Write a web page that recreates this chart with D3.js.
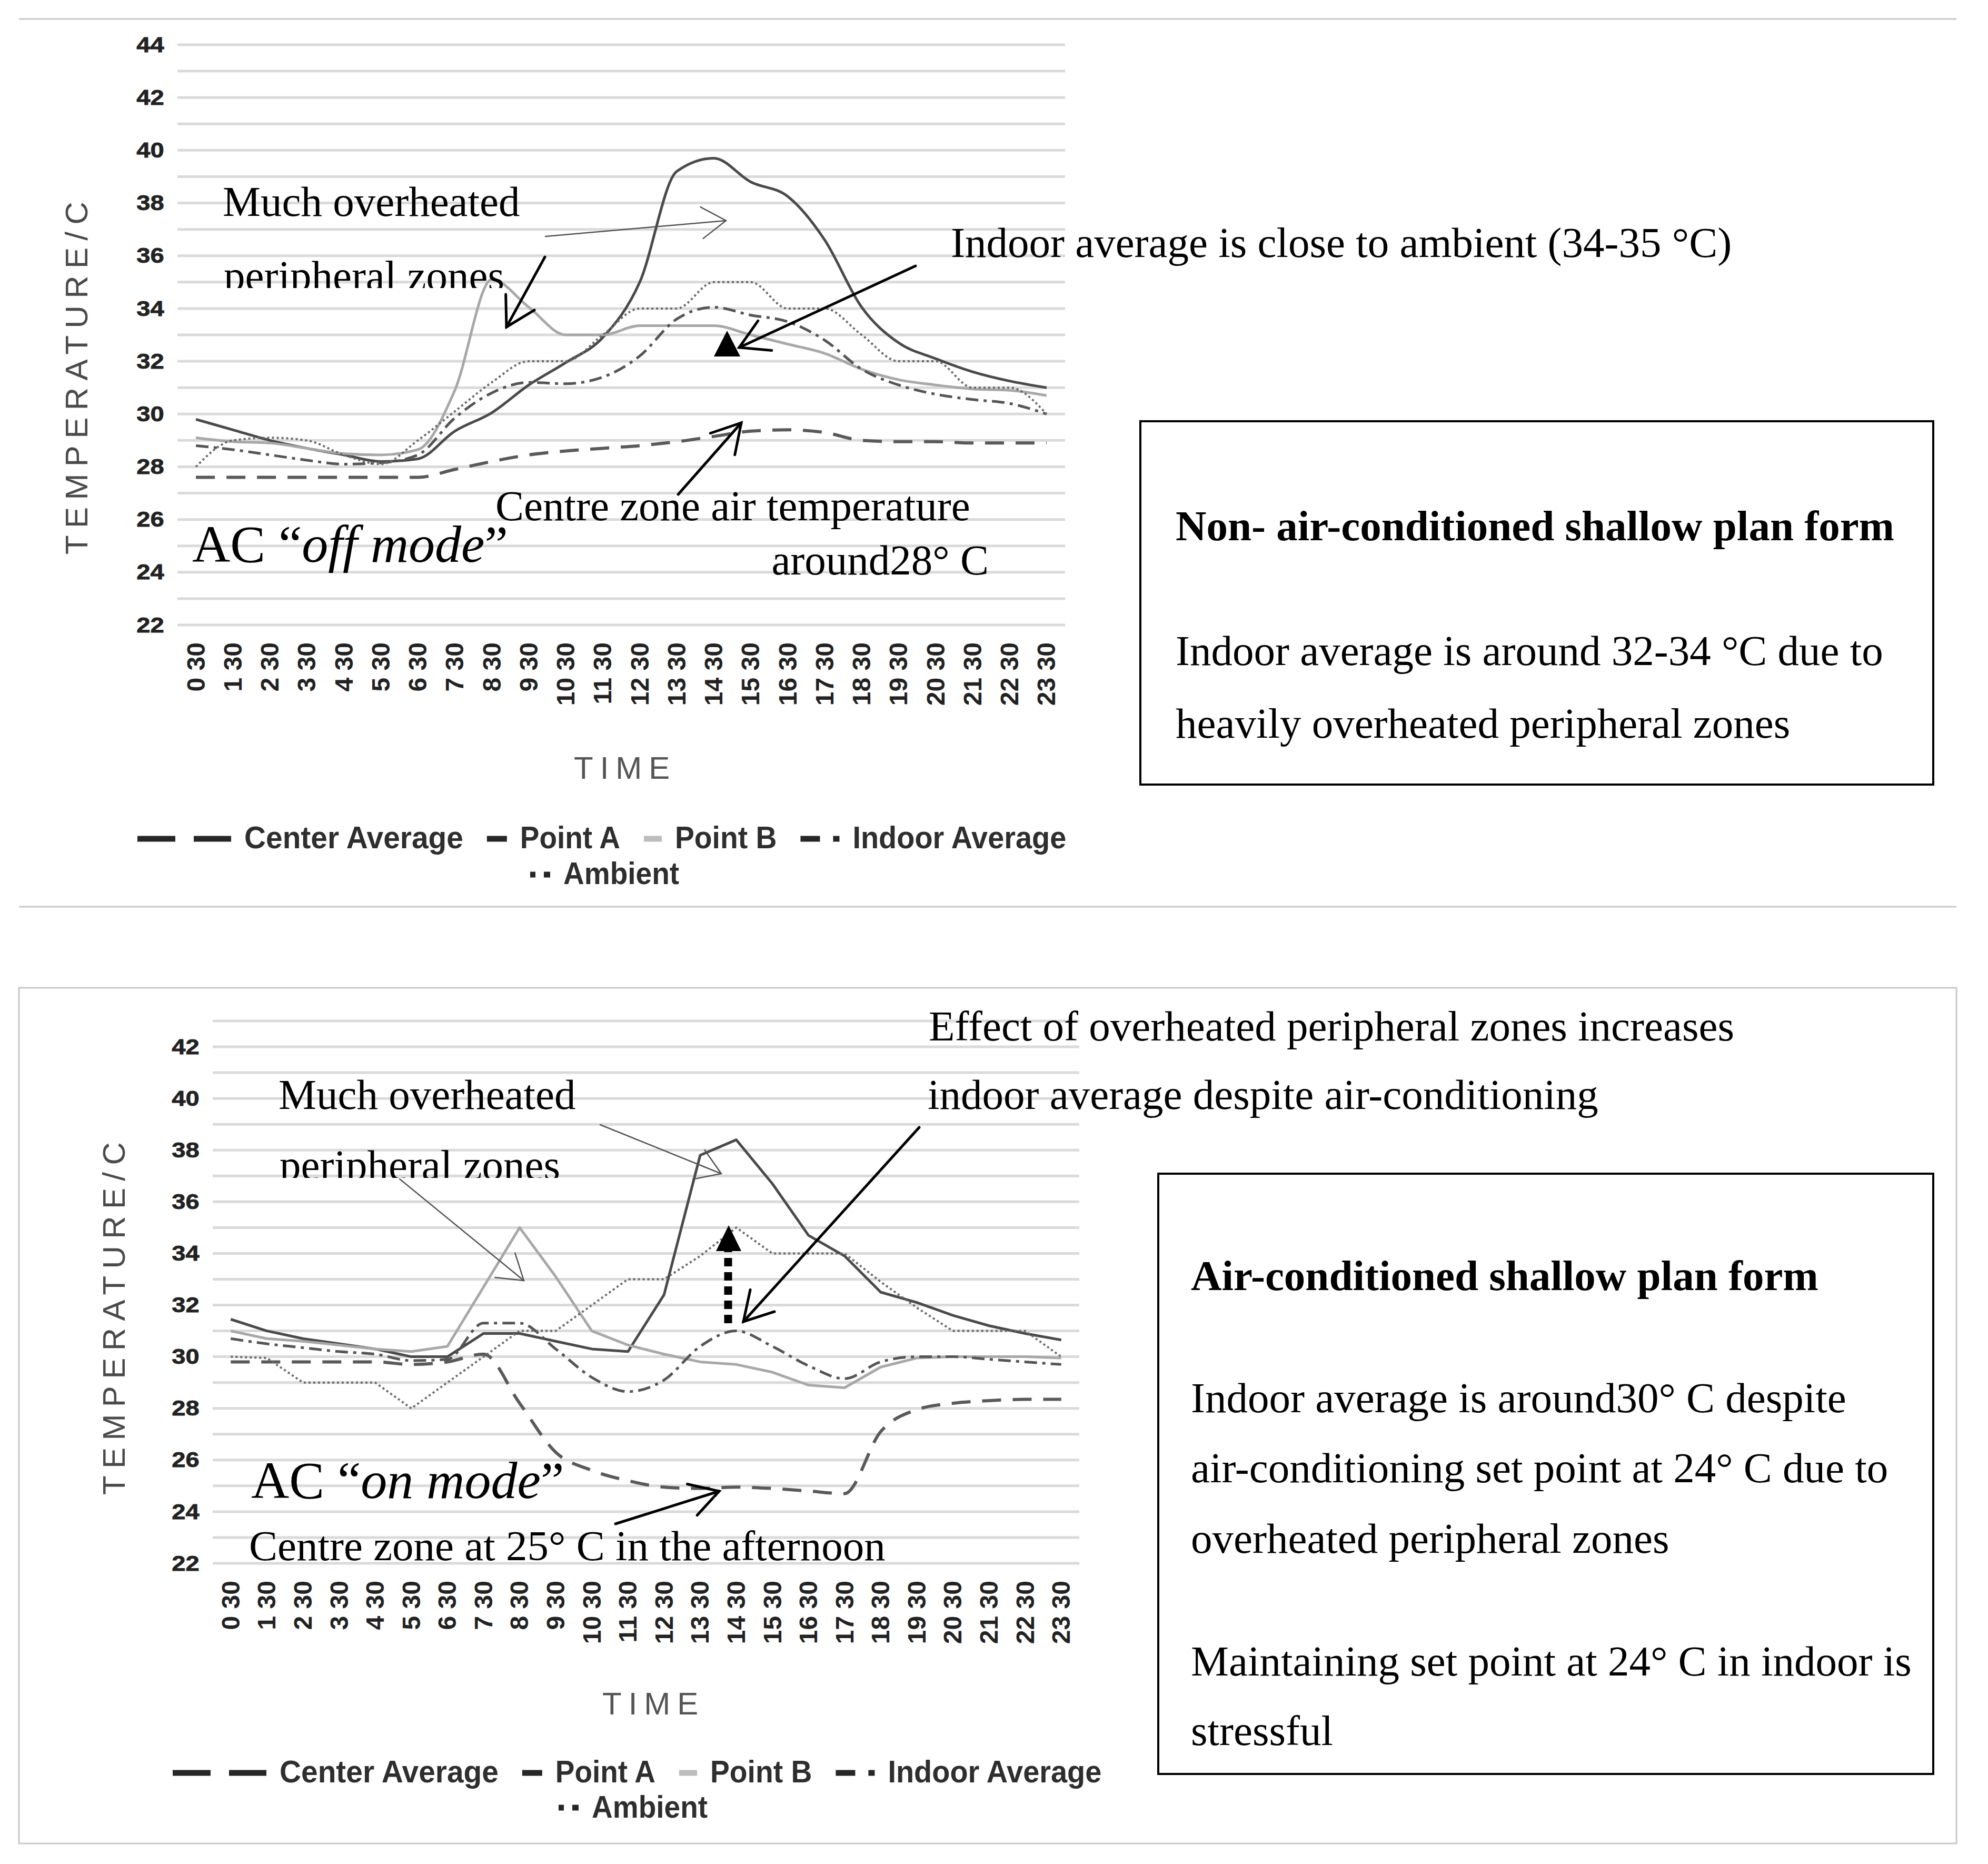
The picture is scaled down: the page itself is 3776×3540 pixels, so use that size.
<!DOCTYPE html>
<html><head><meta charset="utf-8">
<script src="https://cdn.jsdelivr.net/npm/d3@7"></script>
<style>body{margin:0;background:#fff}</style>
</head><body>
<svg id="c" width="3776" height="3540" xmlns="http://www.w3.org/2000/svg"></svg>
<script>
// ---------------- DATA ----------------
const times = ["0 30","1 30","2 30","3 30","4 30","5 30","6 30","7 30","8 30","9 30","10 30","11 30",
               "12 30","13 30","14 30","15 30","16 30","17 30","18 30","19 30","20 30","21 30","22 30","23 30"];
const seriesNames = ["Center Average","Point A","Point B","Indoor Average","Ambient"];
const yTicksOff = [22,24,26,28,30,32,34,36,38,40,42,44];
const yTicksOn  = [22,24,26,28,30,32,34,36,38,40,42];

// AC "off mode" (top chart)
const offCenterAverage = [27.6,27.6,27.6,27.6,27.6,27.6,27.6,27.9,28.2,28.45,28.6,28.7,28.8,28.95,29.15,29.35,29.4,29.3,29.0,28.95,28.95,28.9,28.9,28.9];
const offPointA        = [29.8,29.4,29.0,28.7,28.45,28.2,28.3,29.35,30.05,31.1,31.95,32.9,35.0,39.2,39.7,38.8,38.25,36.6,34.05,32.7,32.1,31.6,31.25,31.0];
const offPointB        = [29.1,28.95,28.9,28.7,28.5,28.45,28.65,30.9,35.1,34.05,33.0,33.0,33.35,33.35,33.35,33.0,32.65,32.3,31.7,31.3,31.1,30.95,30.9,30.7];
const offIndoorAverage = [28.8,28.65,28.45,28.25,28.1,28.15,28.45,29.85,30.8,31.2,31.15,31.4,32.2,33.6,34.05,33.75,33.5,32.8,31.7,31.1,30.75,30.55,30.4,30.0];
const offAmbient       = [28.0,29.0,29.1,29.0,28.45,28.1,29.0,30.1,31.2,32.0,32.0,33.0,34.0,34.0,35.0,35.0,34.0,34.0,33.0,32.0,32.0,31.0,31.0,30.0];

// AC "on mode" (bottom chart)
const onCenterAverage = [29.8,29.8,29.8,29.8,29.8,29.7,29.8,30.1,28.2,26.3,25.6,25.2,24.95,24.9,24.95,24.9,24.8,24.7,27.1,27.95,28.2,28.3,28.35,28.35];
const onPointA        = [31.45,31.0,30.7,30.5,30.3,30.0,30.0,30.9,30.9,30.6,30.3,30.2,32.4,37.8,38.4,36.7,34.7,33.9,32.5,32.1,31.6,31.2,30.9,30.65];
const onPointB        = [31.0,30.7,30.6,30.45,30.3,30.2,30.4,32.7,35.0,33.1,31.0,30.45,30.1,29.8,29.7,29.4,28.9,28.8,29.6,29.95,30.0,30.0,30.0,29.95];
const onIndoorAverage = [30.7,30.5,30.35,30.2,30.1,29.85,29.9,31.3,31.3,30.3,29.2,28.65,29.1,30.4,31.0,30.4,29.65,29.15,29.8,30.0,30.0,29.9,29.8,29.7];
const onAmbient       = [30.0,29.95,29.0,29.0,29.0,28.0,29.0,30.0,31.0,31.0,32.0,33.0,33.0,33.9,35.0,34.0,34.0,34.0,32.9,31.9,31.0,31.0,31.0,30.0];

// ---------------- STYLES ----------------
const lineStyle = {
  "Center Average": {color:"#5a5a5a", width:6, dash:"36,22"},
  "Point A":        {color:"#4a4a4a", width:5, dash:null},
  "Point B":        {color:"#a8a8a8", width:5, dash:null},
  "Indoor Average": {color:"#555555", width:5, dash:"24,10,6,10"},
  "Ambient":        {color:"#6a6a6a", width:4, dash:"4,5"}
};
const legendSwatch = {
  "Center Average": {color:"#262626", segs:[[0,72],[107,178]]},
  "Point A":        {color:"#262626", segs:[[0,38]]},
  "Point B":        {color:"#bdbdbd", segs:[[0,34]]},
  "Indoor Average": {color:"#262626", segs:[[0,37],[62,74]]},
  "Ambient":        {color:"#262626", segs:[[0,10],[26,38]]}
};
const SANS = "'Liberation Sans', Arial, sans-serif";
const SERIF = "'Liberation Serif', 'Times New Roman', serif";

const svg = d3.select("#c");

// section frames
svg.append("line").attr("x1",36).attr("x2",3716).attr("y1",36).attr("y2",36).attr("stroke","#c8c8c8").attr("stroke-width",3);
svg.append("line").attr("x1",36).attr("x2",3716).attr("y1",1722).attr("y2",1722).attr("stroke","#c8c8c8").attr("stroke-width",3);
svg.append("rect").attr("x",36).attr("y",1876).attr("width",3680).attr("height",1625).attr("fill","none").attr("stroke","#c8c8c8").attr("stroke-width",3);

function chart(o){
  const g = svg.append("g");
  const x = d3.scaleBand().domain(times).range([o.left,o.right]);
  const y = d3.scaleLinear().domain([22,o.max]).range([o.bottom,o.top]);
  const cx = t => x(t) + x.bandwidth()/2;

  g.append("g").selectAll("line").data(d3.range(22,o.max+1)).join("line")
    .attr("x1",o.left).attr("x2",o.right).attr("y1",d=>y(d)).attr("y2",d=>y(d))
    .attr("stroke","#dadada").attr("stroke-width",5);

  const ya = g.append("g").attr("transform",`translate(${o.left},0)`)
    .call(d3.axisLeft(y).tickValues(o.yTicks).tickSize(0).tickPadding(22));
  ya.select(".domain").remove();
  ya.selectAll("text").attr("font-family",SANS).attr("font-weight","bold").attr("font-size",41)
    .attr("fill","#222").attr("stroke","#222").attr("stroke-width",0.8).attr("transform","scale(1.15,1)");

  const xa = g.append("g").attr("transform",`translate(0,${o.bottom})`)
    .call(d3.axisBottom(x).tickSize(0));
  xa.select(".domain").remove();
  xa.selectAll("text").attr("x",0).attr("y",0).attr("dy",null)
    .attr("font-family",SANS).attr("font-weight","bold").attr("font-size",48).attr("fill","#222")
    .attr("text-anchor","end").attr("dominant-baseline","central")
    .attr("transform","translate(0,33) rotate(-90)");

  seriesNames.forEach((name,k)=>{
    const st = lineStyle[name];
    const ln = d3.line().x((d,i)=>cx(times[i])).y(d=>y(d)).curve(o.curves[k]);
    g.append("path").datum(o.series[k]).attr("d",ln).attr("fill","none")
      .attr("stroke",st.color).attr("stroke-width",st.width)
      .attr("stroke-dasharray",st.dash).attr("stroke-linejoin","round");
  });

  g.append("text").attr("transform",`translate(${o.yTitle[0]},${o.yTitle[1]}) rotate(-90)`)
    .attr("font-family",SANS).attr("font-size",60).attr("letter-spacing",13.4).attr("fill","#4a4a4a")
    .text("TEMPERATURE/C");
  g.append("text").attr("x",o.xTitle[0]).attr("y",o.xTitle[1])
    .attr("font-family",SANS).attr("font-size",60).attr("letter-spacing",13).attr("fill","#555")
    .text("TIME");

  o.legendRows.forEach(row=>{
    let xx = row.x;
    row.items.forEach(name=>{
      const sw = legendSwatch[seriesNames[name]];
      sw.segs.forEach(s=>{
        g.append("line").attr("x1",xx+s[0]).attr("x2",xx+s[1]).attr("y1",row.sy).attr("y2",row.sy)
          .attr("stroke",sw.color).attr("stroke-width",11);
      });
      const w = sw.segs[sw.segs.length-1][1];
      xx += w + 25;
      const t = g.append("text").attr("x",xx).attr("y",row.ty).attr("font-family",SANS)
        .attr("font-size",60).attr("fill","#2e2e2e").text(seriesNames[name]);
      const len = t.node().getComputedTextLength();
      t.attr("font-weight","bold").attr("textLength",len).attr("lengthAdjust","spacingAndGlyphs");
      xx += len + 45;
    });
  });
  return g;
}

const chartOff = chart({
  left:337, right:2023, top:85, bottom:1187, max:44, yTicks:yTicksOff,
  series:[offCenterAverage,offPointA,offPointB,offIndoorAverage,offAmbient],
  curves:[d3.curveMonotoneX,d3.curveMonotoneX,d3.curveMonotoneX,d3.curveMonotoneX,d3.curveMonotoneX],
  yTitle:[166,1053], xTitle:[1090,1479],
  legendRows:[{x:261, sy:1593, ty:1611, items:[0,1,2,3]},{x:1007, sy:1661, ty:1679, items:[4]}]
});
const chartOn = chart({
  left:404, right:2050, top:1939, bottom:2969, max:43, yTicks:yTicksOn,
  series:[onCenterAverage,onPointA,onPointB,onIndoorAverage,onAmbient],
  curves:[d3.curveMonotoneX,d3.curveLinear,d3.curveLinear,d3.curveMonotoneX,d3.curveLinear],
  yTitle:[237,2839], xTitle:[1144,3256],
  legendRows:[{x:328, sy:3367, ty:3385, items:[0,1,2,3]},{x:1061, sy:3433, ty:3452, items:[4]}]
});

// ---------------- ANNOTATIONS ----------------
const defs = svg.append("defs");
function clipAbove(id, yClip){
  defs.append("clipPath").attr("id",id).append("rect").attr("x",0).attr("y",0).attr("width",3776).attr("height",yClip);
}
clipAbove("clipTop",547); clipAbove("clipBot",2237);

function txt(s, x, y, opts={}){
  const t = svg.append("text").attr("x",x).attr("y",y).attr("font-family",SERIF)
    .attr("font-size",opts.size||81).attr("fill","#000")
    .attr("font-weight",opts.bold?"bold":"normal")
    .attr("text-anchor",opts.anchor||"start");
  if(opts.clip) t.attr("clip-path",`url(#${opts.clip})`);
  if(Array.isArray(s)){
    s.forEach(p=>t.append("tspan").attr("font-style",p[1]?"italic":"normal").text(p[0]));
  } else t.text(s);
  return t;
}
function arrow(x1,y1,x2,y2,opts){
  const g = svg.append("g").attr("stroke",opts.color).attr("stroke-width",opts.width).attr("fill","none")
    .attr("stroke-linecap","round").attr("stroke-linejoin","miter");
  g.append("line").attr("x1",x1).attr("y1",y1).attr("x2",x2).attr("y2",y2);
  const a = Math.atan2(y1-y2,x1-x2), t = opts.angle*Math.PI/180, L = opts.head;
  const p1 = [x2+L*Math.cos(a+t), y2+L*Math.sin(a+t)], p2=[x2+L*Math.cos(a-t), y2+L*Math.sin(a-t)];
  g.append("polyline").attr("points",`${p1[0]},${p1[1]} ${x2},${y2} ${p2[0]},${p2[1]}`);
}
const thin = {color:"#555", width:2.5, angle:33, head:55};
const bold = {color:"#000", width:5, angle:30, head:62};

// top chart annotations
txt("Much overheated",423,410);
txt("peripheral zones",425,551,{clip:"clipTop"});
arrow(1036,449,1379,419,thin);
arrow(1035,488,962,621,bold);
txt("Indoor average is close to ambient (34-35 °C)",1806,488);
arrow(1739,505,1404,660,bold);
svg.append("path").attr("d","M1381,628 L1406,677 L1356,677 Z").attr("fill","#000");
txt("Centre zone air temperature",941,988);
txt("around28° C",1878,1091,{anchor:"end"});
arrow(1288,939,1408,803,bold);
txt([["AC “",false],["off mode",true],["”",false]],365,1067,{size:100});
svg.append("rect").attr("x",2166).attr("y",800).attr("width",1506).attr("height",690).attr("fill","none").attr("stroke","#000").attr("stroke-width",4);
txt("Non- air-conditioned shallow plan form",2233,1026,{bold:true});
txt("Indoor average is around 32-34 °C due to",2233,1263);
txt("heavily overheated peripheral zones",2233,1401);

// bottom chart annotations
txt("Effect of overheated peripheral zones increases",1764,1976);
txt("indoor average despite air-conditioning",1762,2106);
arrow(1746,2141,1412,2510,bold);
svg.append("line").attr("x1",1383).attr("x2",1383).attr("y1",2513).attr("y2",2376)
  .attr("stroke","#000").attr("stroke-width",15).attr("stroke-dasharray","16,11");
svg.append("path").attr("d","M1384,2327 L1408,2376 L1360,2376 Z").attr("fill","#000");
txt("Much overheated",529,2106);
txt("peripheral zones",531,2240,{clip:"clipBot"});
arrow(759,2239,995,2432,thin);
arrow(1140,2136,1370,2229,thin);
txt([["AC “",false],["on mode",true],["”",false]],477,2845,{size:100});
txt("Centre zone at 25° C in the afternoon",473,2963);
arrow(1169,2894,1366,2832,bold);
svg.append("rect").attr("x",2200).attr("y",2229).attr("width",1472).attr("height",1140).attr("fill","none").attr("stroke","#000").attr("stroke-width",4);
txt("Air-conditioned shallow plan form",2262,2450,{bold:true});
txt("Indoor average is around30° C despite",2262,2682);
txt("air-conditioning set point at 24° C due to",2262,2815);
txt("overheated peripheral zones",2262,2949);
txt("Maintaining set point at 24° C in indoor is",2262,3182);
txt("stressful",2262,3314);
</script>
</body></html>
